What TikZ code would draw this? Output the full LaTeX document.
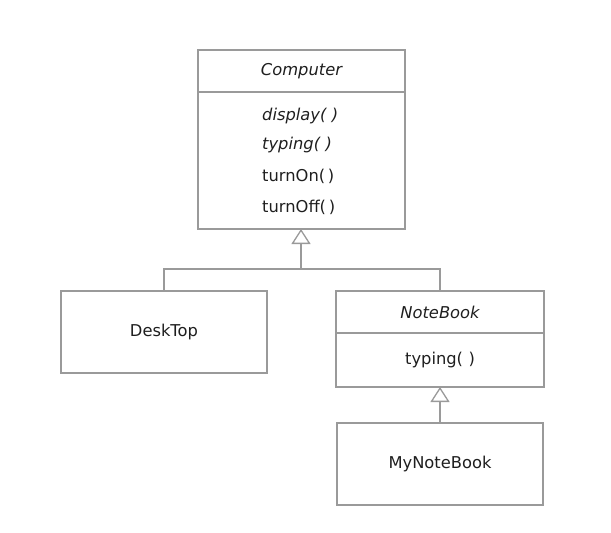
\documentclass[tikz,border=0pt]{standalone}
\usepackage{fontspec}
\setmainfont{DejaVu Sans}
\usetikzlibrary{arrows.meta}
\definecolor{linegray}{HTML}{9A9A9A}
\definecolor{txt}{HTML}{1E1E1E}
\begin{document}
\begin{tikzpicture}[x=1pt,y=-1pt,
  box/.style={draw=linegray,line width=1.3pt,outer sep=0pt,inner sep=0pt},
  lbl/.style={text=txt,font=\fontsize{16.3}{18}\selectfont,inner sep=0pt},
  ilbl/.style={lbl,font=\fontsize{16.3}{18}\selectfont\itshape},
  conn/.style={draw=linegray,line width=1.3pt},
  inh/.style={conn,-{Triangle[open,width=19pt,length=15pt,fill=white]}}]
\useasboundingbox (0,0) rectangle (611,533);
% Computer
\node[box,minimum width=207pt,minimum height=42pt] (comph) at (301.5,71) {};
\node[box,minimum width=207pt,minimum height=137pt,anchor=north] (compb) at (comph.south) {};
\node[ilbl] (compt) at (comph.center) {Computer};
\node[ilbl,anchor=west] (m1) at (262,116) {display(\,\,)};
\node[ilbl,anchor=west] (m2) at (262,145) {typing(\,\,)};
\node[lbl,anchor=west] (m3) at (262,176) {turnOn(\,)};
\node[lbl,anchor=west] (m4) at (262,207) {turnOff(\,)};
% DeskTop
\node[box,minimum width=206pt,minimum height=82pt] (desk) at (164,332) {};
\node[lbl] (deskt) at (desk.center) {DeskTop};
% NoteBook
\node[box,minimum width=208pt,minimum height=42pt] (nbh) at (440,312) {};
\node[box,minimum width=208pt,minimum height=54pt,anchor=north] (nbb) at (nbh.south) {};
\node[ilbl] (nbt) at (nbh.center) {NoteBook};
\node[lbl] (nbm) at (nbb.center) {typing(\,\,)};
% MyNoteBook
\node[box,minimum width=206pt,minimum height=82pt] (my) at (440,464) {};
\node[lbl] (myt) at (my.center) {MyNoteBook};
% connectors
\coordinate (j) at (301,269);
\draw[conn] (desk.north) |- (j);
\draw[conn] (nbh.north) |- (j);
\draw[inh] (j) -- (compb.south -| j);
\draw[inh] (my.north) -- (nbb.south -| my.north);
\end{tikzpicture}
\end{document}
